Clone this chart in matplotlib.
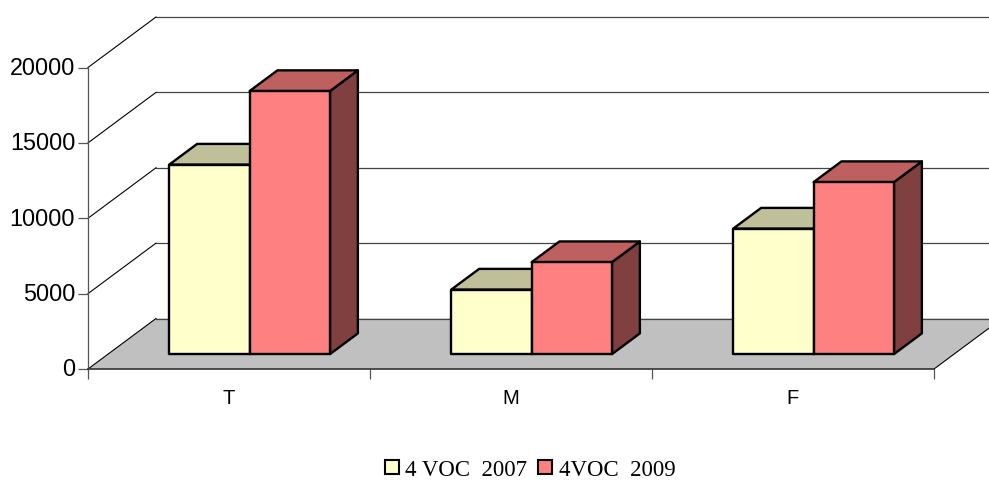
import matplotlib
matplotlib.use('Agg')
import matplotlib.pyplot as plt
from matplotlib.patches import Polygon, Patch

categories = ['T', 'M', 'F']
series_names = ['4 VOC  2007', '4VOC  2009']
voc_2007 = [12570, 4280, 8325]
voc_2009 = [17450, 6100, 11410]
y_ticks = [0, 5000, 10000, 15000, 20000]

W, H = 989, 481
left, right, top, bottom = 88, 934, 68.5, 370

fig = plt.figure(figsize=(W / 100, H / 100), dpi=100)
ax = fig.add_axes([left / W, 1 - bottom / H, (right - left) / W, (bottom - top) / H])
ax.set_xlim(0, 3)
ax.set_ylim(0, 20000)
ax.patch.set_visible(False)

# depth of the fake 3d box, one unit of depth = full floor
dx_depth = 68 / ((right - left) / 3)
dy_depth = 50.5 / (bottom - top) * 20000


def proj(x, y, d):
    return (x + d * dx_depth, y + d * dy_depth)


def face(pts, color, lw=1.7, z=3):
    ax.add_patch(Polygon([proj(*p) for p in pts], closed=True, facecolor=color,
                         edgecolor='black', linewidth=lw, joinstyle='round',
                         clip_on=False, zorder=z))


# floor
ax.add_patch(Polygon([proj(0, 0, 0), proj(3, 0, 0), proj(3, 0, 1), proj(0, 0, 1)], closed=True,
                     facecolor='#C0C0C0', edgecolor='none', clip_on=False, zorder=1))

# walls
for t in y_ticks:
    ax.plot(*zip(proj(0, t, 1), proj(3, t, 1)), color='#444444', lw=0.9, clip_on=False, zorder=1.5)
    ax.plot(*zip(proj(0, t, 0), proj(0, t, 1)), color='black', lw=0.8, clip_on=False, zorder=1.5)
ax.plot(*zip(proj(3, 0, 0), proj(3, 0, 1)), color='black', lw=0.8, clip_on=False, zorder=1.5)

# bars
bar_w = 0.285
d0, d1 = 0.295, 0.705
colors = [('#FFFFCC', '#BFBF99', '#8C8C70'), ('#FF8080', '#BF6060', '#804040')]
for i in range(len(categories)):
    c = i + 0.502
    for j, vals in enumerate([voc_2007, voc_2009]):
        x0 = c + (j - 1) * bar_w
        x1 = x0 + bar_w
        v = vals[i]
        fc, tc, sc = colors[j]
        z = 3 + j
        face([(x1, 0, d0), (x1, 0, d1), (x1, v, d1), (x1, v, d0)], sc, z=z)
        face([(x0, v, d0), (x1, v, d0), (x1, v, d1), (x0, v, d1)], tc, z=z)
        face([(x0, 0, d0), (x1, 0, d0), (x1, v, d0), (x0, v, d0)], fc, z=z)

# axes
for s in ['top', 'right']:
    ax.spines[s].set_visible(False)
ax.spines['left'].set_color('#555555')
ax.spines['left'].set_linewidth(0.9)
ax.spines['bottom'].set_color('#333333')
ax.spines['bottom'].set_linewidth(1.2)
ax.spines['left'].set_zorder(2)
ax.spines['bottom'].set_zorder(2)

ax.set_yticks(y_ticks)
ax.set_yticklabels([str(t) for t in y_ticks], fontfamily='Liberation Sans', fontsize=16.8, va='center')
ax.tick_params(axis='y', length=7.2, width=0.9, color='#555555', pad=2)
ax.set_xticks([0, 1, 2, 3])
ax.set_xticklabels([])
ax.tick_params(axis='x', which='major', length=7, width=0.9, color='#555555')
ax.set_xticks([0.5, 1.5, 2.5], minor=True)
ax.set_xticklabels(categories, minor=True, fontfamily='Liberation Sans', fontsize=14.5)
ax.tick_params(axis='x', which='minor', length=0, pad=14)

# legend
handles = [Patch(facecolor=colors[0][0], edgecolor='black', linewidth=1.5),
           Patch(facecolor=colors[1][0], edgecolor='black', linewidth=1.5)]
fig.legend(handles, series_names, ncol=2, frameon=False, loc='center',
           bbox_to_anchor=(530 / W, 1 - 470.5 / H),
           prop={'family': 'Liberation Serif', 'size': 16.5},
           handlelength=0.61, handleheight=0.61, handletextpad=0.27, columnspacing=0.5,
           borderpad=0, borderaxespad=0)

fig.savefig('out.png', dpi=100)
